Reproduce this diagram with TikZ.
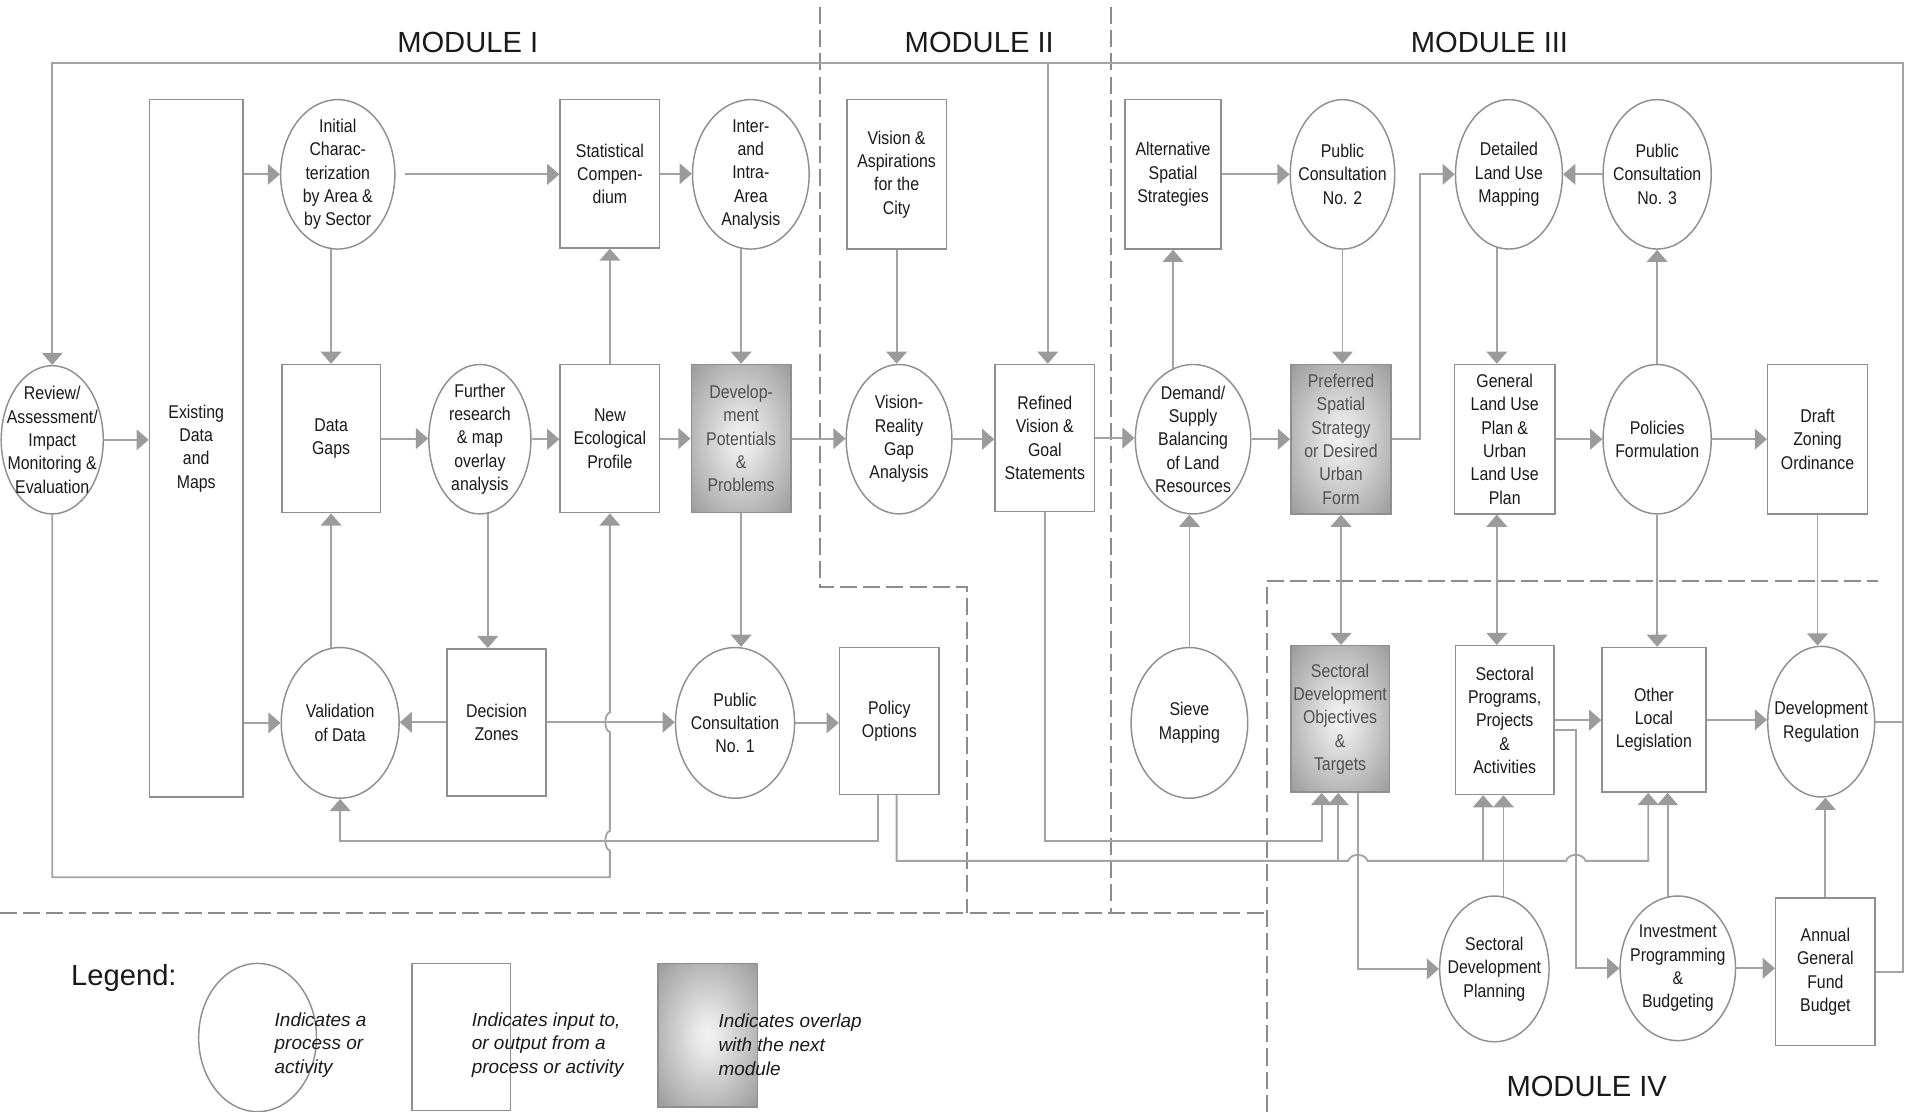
\documentclass[tikz,border=0pt]{standalone}
\usepackage{fontspec}
\setmainfont{Liberation Sans}[FakeStretch=0.86]
\newfontfamily\modfont{Liberation Sans}
\usetikzlibrary{shapes.geometric,arrows.meta,calc}
\definecolor{lnc}{HTML}{A3A3A3}
\definecolor{ahc}{HTML}{9B9B9B}
\definecolor{bdc}{HTML}{8F8F8F}
\definecolor{dsc}{HTML}{8C8C8C}
\definecolor{txc}{HTML}{1A1A1A}
\definecolor{gtc}{HTML}{505050}
\pgfdeclareradialshading{gshade}{\pgfpoint{0bp}{0bp}}{color(0bp)=(black!5); color(6bp)=(black!9); color(36bp)=(black!40); color(50bp)=(black!40)}
\pgfdeclarelayer{bg}
\pgfsetlayers{bg,main}
\newcommand\nodefnt{\fontsize{7.6pt}{9.6pt}\selectfont}
\begin{document}
\begin{tikzpicture}[x=0.5pt,y=-0.5pt,
  ell/.style={draw=bdc, line width=0.6pt, fill=white, ellipse, inner sep=0pt},
  box/.style={draw=bdc, line width=0.6pt, fill=white, rectangle, inner sep=0pt, align=center, text=txc, font=\nodefnt},
  gbox/.style={box, shading=gshade, text=gtc},
  txt/.style={align=center, text=txc, font=\nodefnt, inner sep=0pt},
  sz/.style 2 args={minimum width=#1*0.5pt, minimum height=#2*0.5pt},
  ln/.style={draw=lnc, line width=0.75pt},
  arr/.style={ln, -{Triangle[length=5pt,width=8.5pt,color=ahc]}},
  arr2/.style={ln, {Triangle[length=5pt,width=8.5pt,color=ahc]}-{Triangle[length=5pt,width=8.5pt,color=ahc]}},
  dsh/.style={draw=dsc, line width=0.8pt, dash pattern=on 7pt off 2.5pt},
  modl/.style={font=\modfont\fontsize{12pt}{14pt}\selectfont, text=txc, inner sep=0pt},
  legt/.style={font=\modfont\itshape\fontsize{7.8pt}{9.75pt}\selectfont, text=txc, align=left, inner sep=0pt, anchor=west},
]
\useasboundingbox (0,0) rectangle (1568,915);

% ---------- module labels ----------
\node[modl] (m1) at (385,35) {MODULE I};
\node[modl] (m2) at (806,35) {MODULE II};
\node[modl] (m3) at (1226,35) {MODULE III};
\node[modl] (m4) at (1306,894) {MODULE IV};

% ---------- nodes: row 1 ----------
\node[box, sz={77}{574}] (exist) at (161.5,369) {Existing\\Data\\and\\Maps};
\node[ell, sz={94}{123}] (init) at (278,143.5) {};
\node[txt] at (init) {Initial\\Charac-\\terization\\by Area \&\\by Sector};
\node[box, sz={82}{122}] (stat) at (502,143) {Statistical\\Compen-\\dium};
\node[ell, sz={96}{123}] (inter) at (618,143.5) {};
\node[txt] at (inter) {Inter-\\and\\Intra-\\Area\\Analysis};
\node[box, sz={82}{123}] (visasp) at (738,143.5) {Vision \&\\Aspirations\\for the\\City};
\node[box, sz={79}{123}] (alt) at (965.5,143.5) {Alternative\\Spatial\\Strategies};
\node[ell, sz={86}{123}] (pc2) at (1105,143.5) {};
\node[txt] at (pc2) {Public\\Consultation\\No. 2};
\node[ell, sz={88}{123}] (det) at (1242,143.5) {};
\node[txt] at (det) {Detailed\\Land Use\\Mapping};
\node[ell, sz={89}{123}] (pc3) at (1364,143.5) {};
\node[txt] at (pc3) {Public\\Consultation\\No. 3};

% ---------- row 2 ----------
\node[ell, sz={84}{122}] (rev) at (43,362) {};
\node[txt] at (rev) {Review/\\Assessment/\\Impact\\Monitoring \&\\Evaluation};
\node[box, sz={81}{122}] (gaps) at (272.5,361) {Data\\Gaps};
\node[ell, sz={84}{123}] (furth) at (395,361.5) {};
\node[txt] at (furth) {Further\\research\\\& map\\overlay\\analysis};
\node[box, sz={82}{122}] (neweco) at (502,361) {New\\Ecological\\Profile};
\node[gbox, sz={82}{122}] (devpot) at (610,361) {Develop-\\ment\\Potentials\\\&\\Problems};
\node[ell, sz={87}{123}] (vrg) at (740,361.5) {};
\node[txt] at (vrg) {Vision-\\Reality\\Gap\\Analysis};
\node[box, sz={82}{121}] (refined) at (860,360.5) {Refined\\Vision \&\\Goal\\Statements};
\node[ell, sz={95}{123}] (dem) at (982,361.5) {};
\node[txt] at (dem) {Demand/\\Supply\\Balancing\\of Land\\Resources};
\node[gbox, sz={82.5}{123}] (pref) at (1103.75,361.5) {Preferred\\Spatial\\Strategy\\or Desired\\Urban\\Form};
\node[box, sz={83}{123}] (genlu) at (1238.5,361.5) {General\\Land Use\\Plan \&\\Urban\\Land Use\\Plan};
\node[ell, sz={89}{123}] (pol) at (1364,361.5) {};
\node[txt] at (pol) {Policies\\Formulation};
\node[box, sz={82}{123}] (draft) at (1496,361.5) {Draft\\Zoning\\Ordinance};

% ---------- row 3 ----------
\node[ell, sz={97}{124}] (val) at (280,595) {};
\node[txt] at (val) {Validation\\of Data};
\node[box, sz={81.5}{121}] (dec) at (408.75,594.5) {Decision\\Zones};
\node[ell, sz={98}{124}] (pc1) at (605,595) {};
\node[txt] at (pc1) {Public\\Consultation\\No. 1};
\node[box, sz={82}{121}] (polopt) at (732,593.5) {Policy\\Options};
\node[ell, sz={96}{124}] (sieve) at (979,595) {};
\node[txt] at (sieve) {Sieve\\Mapping};
\node[gbox, sz={81}{120.5}] (sdo) at (1103,591.75) {Sectoral\\Development\\Objectives\\\&\\Targets};
\node[box, sz={81}{122.5}] (spp) at (1238.5,592.75) {Sectoral\\Programs,\\Projects\\\&\\Activities};
\node[box, sz={85.4}{119}] (oll) at (1361.3,592.5) {Other\\Local\\Legislation};
\node[ell, sz={88}{124}] (devreg) at (1499,594) {};
\node[txt] at (devreg) {Development\\Regulation};

% ---------- row 4 ----------
\node[ell, sz={90}{120}] (sdp) at (1230,797.5) {};
\node[txt] at (sdp) {Sectoral\\Development\\Planning};
\node[ell, sz={95}{119}] (inv) at (1381,797) {};
\node[txt] at (inv) {Investment\\Programming\\\&\\Budgeting};
\node[box, sz={82}{121.5}] (annual) at (1502.45,799.75) {Annual\\General\\Fund\\Budget};

% ---------- legend ----------
\node[modl] (leg) at (102,805) {Legend:};
\node[ell, sz={97}{122}] (legell) at (212,854) {};
\node[box, sz={81}{121}] (legbox) at (379.5,853.5) {};
\node[gbox, sz={82}{118}] (leggrey) at (582.5,852) {};
\node[legt] (lt1) at (225.7,860) {Indicates a\\process or\\activity};
\node[legt] (lt2) at (388,860) {Indicates input to,\\or output from a\\process or activity};
\node[legt] (lt3) at (591,860) {Indicates overlap\\with the next\\module};

% ---------- helper coordinates ----------
\coordinate (rtop) at (1566,52);
\coordinate (yloop) at (0,722);
\coordinate (ypo1) at (0,692);
\coordinate (ypo2) at (0,708.6);
\coordinate (ysp) at (0,601);
\coordinate (xgl) at (1232,0);
\coordinate (xfd) at (401.5,0);
\coordinate (xpa) at (722.7,0);
\coordinate (xpb) at (738,0);
\coordinate (xq1) at (1087.8,0);
\coordinate (xq2) at (1101.5,0);
\coordinate (xq3) at (1220.8,0);
\coordinate (xq4) at (1356.6,0);
\coordinate (xs) at (1117.6,0);
\coordinate (xt) at (1237.5,0);
\coordinate (xu) at (1372.6,0);
\coordinate (xv) at (1297,0);
\coordinate (xr) at (862.4,0);
\coordinate (xpd) at (1168.7,0);

\begin{pgfonlayer}{bg}
% dashed module borders
\draw[dsh] (674.6,6) -- (674.6,483) -- (796,483) -- (796,751.5);
\draw[dsh] (914.5,6) -- (914.5,751.5);
\draw[dsh] (0,751.5) -- (1042.6,751.5);
\draw[dsh] (1042.6,915) -- (1042.6,478) -- (1546,478);

% feedback loop over the top
\draw[arr] (annual) -- (annual -| rtop) -- (rtop) -- (rtop -| rev) -- (rev.north);
\draw[ln] (devreg) -- (devreg -| rtop);
\draw[arr] (xr |- rtop) -- (xr |- refined.north);

% loop under module I
\draw[arr] (rev) -- (rev |- yloop) -- (502,722) -- (502,700)
  .. controls (497,699) and (497,685) .. (502,684) -- (502,602.5)
  .. controls (497,601.5) and (497,587.5) .. (502,586.5) -- (neweco.south);

% module I
\draw[arr] (rev) -- (rev -| exist.west);
\draw[arr] (exist |- init) -- (init.west);
\draw[arr] (exist |- val) -- (val.west);
\draw[arr] (gaps |- init) -- (gaps.north);
\draw[arr, shorten <=4pt] (init.east) -- (init -| stat.west);
\draw[arr] (gaps) -- (gaps -| furth.west);
\draw[arr] (furth) -- (furth -| neweco.west);
\draw[arr] (neweco) -- (stat.south);
\draw[arr] (stat) -- (stat -| inter.west);
\draw[arr] (devpot |- inter) -- (devpot.north);
\draw[arr] (neweco) -- (neweco -| devpot.west);
\draw[arr] (xfd |- furth) -- (xfd |- dec.north);
\draw[arr] (gaps |- val) -- (gaps.south);
\draw[arr] (dec) -- (dec -| val.east);
\draw[arr] (dec) -- (dec -| pc1.west);
\draw[arr] (devpot) -- (devpot |- pc1.north);
\draw[arr] (pc1) -- (pc1 -| polopt.west);
\draw[arr] (xpa |- polopt) -- (xpa |- ypo1) -- (val.south |- ypo1) -- (val.south);

% module II
\draw[arr] (devpot) -- (devpot -| vrg.west);
\draw[arr] (visasp) -- (visasp |- vrg.north);
\draw[arr] (vrg) -- (vrg -| refined.west);
\draw[arr] (refined) -- (refined -| dem.west);
\draw[arr] (refined) -- (refined |- ypo1) -- (xq1 |- ypo1) -- (xq1 |- sdo.south);

% module III
\draw[arr] (alt |- dem) -- (alt.south);
\draw[arr] (alt) -- (alt -| pc2.west);
\draw[arr] (dem) -- (dem -| pref.west);
\draw[arr] (pc2) -- (pc2 |- pref.north);
\draw[arr] (pref) -- (xpd |- pref) -- (xpd |- det) -- (det.west);
\draw[arr] (pc3) -- (pc3 -| det.east);
\draw[arr] (xgl |- det) -- (xgl |- genlu.north);
\draw[arr] (genlu) -- (genlu -| pol.west);
\draw[arr] (pol) -- (pol |- pc3.south);
\draw[arr] (pol) -- (pol -| draft.west);
\draw[arr] (sieve) -- (sieve |- dem.south);
\draw[arr2] (pref.south) -- (pref.south |- sdo.north);
\draw[arr2] (xgl |- genlu.south) -- (xgl |- spp.north);
\draw[arr] (pol) -- (pol |- oll.north);
\draw[arr] (draft) -- (draft |- devreg.north);

% module IV
\draw[arr] (xpb |- polopt) -- (xpb |- ypo2) -- (1109.6,708.6)
  .. controls (1111.6,702) and (1123.6,702) .. (1125.6,708.6) -- (1289,708.6)
  .. controls (1291,702) and (1303,702) .. (1305,708.6) -- (xq4 |- ypo2) -- (xq4 |- oll.south);
\draw[arr] (xq2 |- ypo2) -- (xq2 |- sdo.south);
\draw[arr] (xq3 |- ypo2) -- (xq3 |- spp.south);
\draw[arr] (xs |- sdo) -- (xs |- sdp) -- (sdp.west);
\draw[arr] (xt |- sdp) -- (xt |- spp.south);
\draw[arr] (spp |- ysp) -- (xv |- ysp) -- (xv |- inv) -- (inv.west);
\draw[arr] (xu |- inv) -- (xu |- oll.south);
\draw[arr] (spp) -- (spp -| oll.west);
\draw[arr] (oll) -- (oll -| devreg.west);
\draw[arr] (inv) -- (inv -| annual.west);
\draw[arr] (annual) -- (annual |- devreg.south);
\end{pgfonlayer}
\end{tikzpicture}
\end{document}
